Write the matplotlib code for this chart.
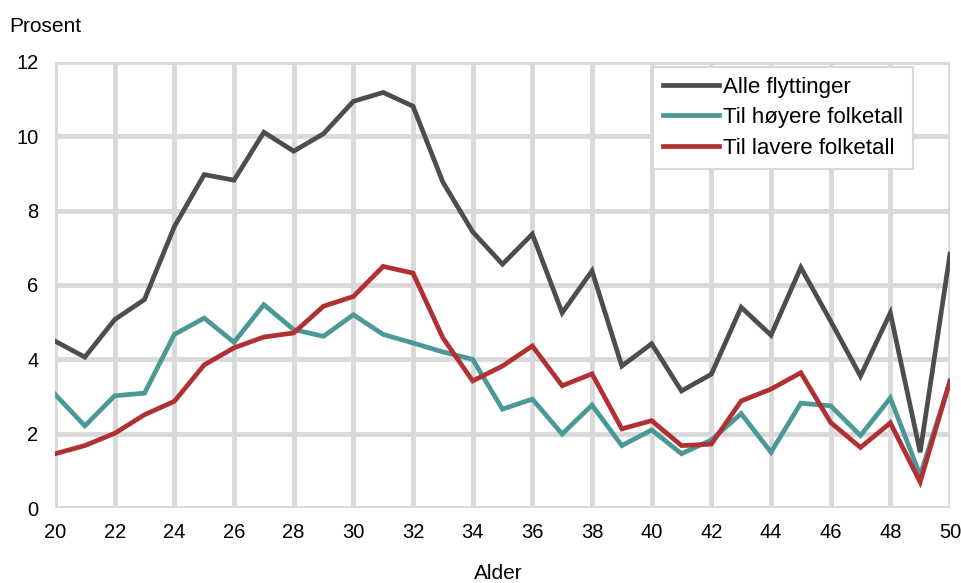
import matplotlib
matplotlib.use("Agg")
import matplotlib.pyplot as plt

plt.rcParams['font.family'] = ['Liberation Sans', 'DejaVu Sans']

ages = list(range(20, 51))
alle = [4.49, 4.06, 5.07, 5.61, 7.57, 8.97, 8.82, 10.11, 9.60, 10.07, 10.94,
        11.18, 10.81, 8.77, 7.43, 6.56, 7.37, 5.25, 6.38, 3.82, 4.42,
        3.15, 3.60, 5.40, 4.65, 6.47, 5.03, 3.55, 5.25, 1.50, 6.83]
hoyere = [3.06, 2.21, 3.02, 3.09, 4.67, 5.11, 4.46, 5.47, 4.80, 4.62, 5.20,
          4.67, 4.44, 4.20, 4.00, 2.66, 2.93, 1.99, 2.77, 1.68, 2.10,
          1.46, 1.83, 2.54, 1.50, 2.82, 2.75, 1.95, 2.96, 0.88, 3.40]
lavere = [1.46, 1.68, 2.01, 2.51, 2.87, 3.85, 4.31, 4.60, 4.71, 5.43, 5.69,
          6.50, 6.32, 4.58, 3.42, 3.82, 4.36, 3.29, 3.61, 2.13, 2.35,
          1.68, 1.72, 2.88, 3.20, 3.64, 2.30, 1.63, 2.29, 0.70, 3.42]

series_names = ["Alle flyttinger", "Til høyere folketall", "Til lavere folketall"]
colors = ["#4d4d4d", "#4a9996", "#b03033"]

fig = plt.figure(figsize=(9.62, 5.83), dpi=100)
ax = fig.add_axes([0.0572, 0.1286, 0.9303, 0.7651])

for vals, name, c in zip([alle, hoyere, lavere], series_names, colors):
    ax.plot(ages, vals, color=c, lw=3.4, label=name, solid_joinstyle='miter', zorder=3)

ax.set_xlim(20, 50)
ax.set_ylim(0, 12)
ax.set_xticks(range(20, 51, 2))
ax.set_yticks(range(0, 13, 2))
ax.grid(True, color="#d9d9d9", lw=3.5, zorder=0)
ax.set_axisbelow(True)
for s in ax.spines.values():
    s.set_visible(False)
ax.tick_params(length=0, labelsize=14.5, colors="#000000")
ax.tick_params(axis='y', pad=12)
ax.tick_params(axis='x', pad=11)

fig.text(0.010, 0.955, "Prosent", fontsize=15, ha='left', va='center')
fig.text(0.518, 0.0, "Alder", fontsize=15, ha='center', va='bottom')

leg = ax.legend(loc='upper right', bbox_to_anchor=(0.9587, 0.989), borderaxespad=0,
                fontsize=16, frameon=True, fancybox=False, handlelength=2.5,
                handletextpad=0.2, labelspacing=0.42, borderpad=0.45, framealpha=1)
leg.get_frame().set_edgecolor("#d9d9d9")
leg.get_frame().set_linewidth(1.5)

fig.savefig("out.png", dpi=100)
